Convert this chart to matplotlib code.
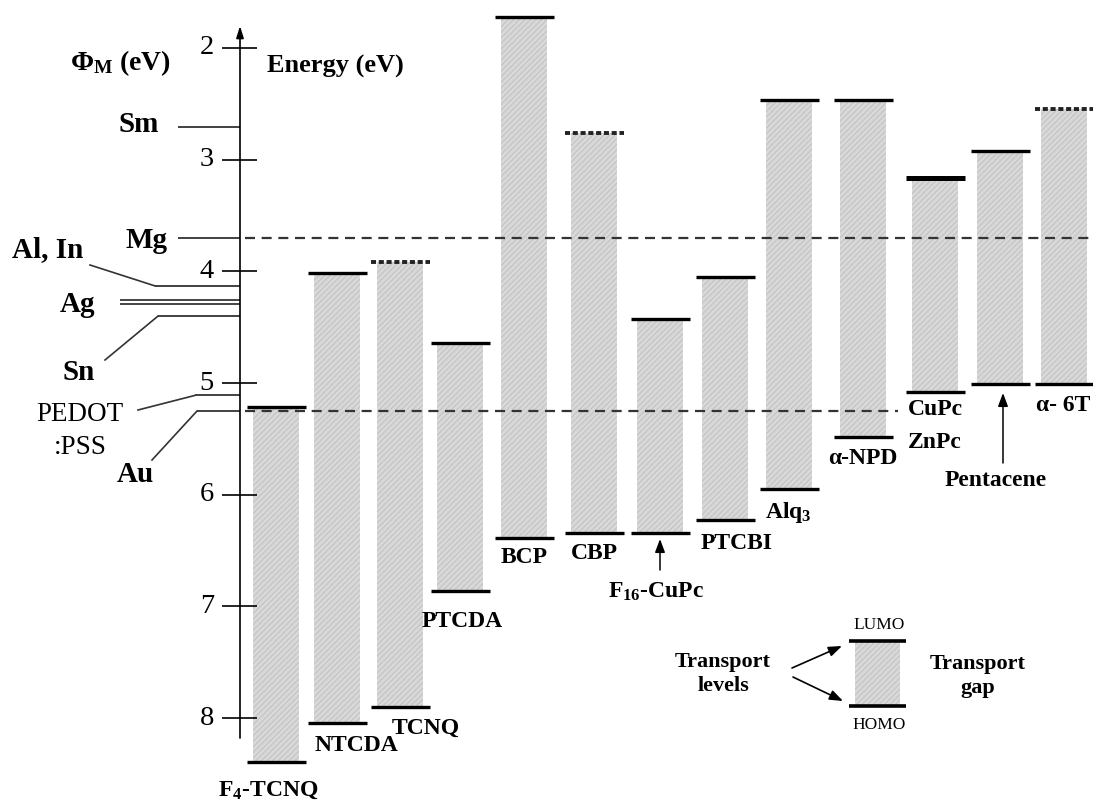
import numpy as np
import matplotlib
matplotlib.use("Agg")
import matplotlib.pyplot as plt

plt.rcParams['font.family'] = ['Liberation Serif', 'DejaVu Serif']
plt.rcParams['mathtext.default'] = 'regular'
plt.rcParams['hatch.linewidth'] = 0.6

# ---------------- data ----------------
materials = ['F$_4$-TCNQ', 'NTCDA', 'TCNQ', 'PTCDA', 'BCP', 'CBP', 'F$_{16}$-CuPc',
             'PTCBI', 'Alq$_3$', 'α-NPD', 'CuPc', 'Pentacene', 'α- 6T']
lumo = [5.21, 4.01, 3.92, 4.64, 1.72, 2.76, 4.43, 4.05, 2.47, 2.47, 3.16, 2.92, 2.55]
homo = [8.39, 8.04, 7.90, 6.86, 6.39, 6.34, 6.34, 6.23, 5.95, 5.48, 5.08, 5.01, 5.01]

metals = ['Sm', 'Mg', 'Al, In', 'Ag', 'Sn', 'PEDOT\n:PSS', 'Au']
phi_m = [2.71, 3.70, 4.13, 4.26, 4.40, 5.11, 5.25]

energy_ticks = [2, 3, 4, 5, 6, 7, 8]

# ---------------- layout / style ----------------
def E(py):
    """pixel row -> energy (layout helper for annotations)"""
    return 2 + (py - 48) / 111.7

bar_x = [276, 337, 400, 460, 524, 594, 660, 725, 789, 863, 935, 1000, 1064]
bar_w = 46
line_w = 59
lumo_style = ['solid', 'solid', 'dotted', 'solid', 'solid', 'dotted', 'solid',
              'solid', 'solid', 'solid', 'thick', 'solid', 'dotted']
label_pos = [(268, 790), (356, 746), (426, 728), (462, 622), (524, 558), (594, 554),
             (656, 592), (737, 544), (788, 513), (863, 459), (935, 410), (996, 481),
             (1063, 406)]

metal_label_pos = [(139, 125), (146, 240), (48, 250), (78, 305), (79, 373),
                   (80, 431), (135, 475)]
metal_line_start = [178, 178, 155, 120, 158, 195, 197]
metal_leader = [None, None, (90, 265), None, (105, 360), (138, 410), (152, 460)]
metal_bold = [True, True, True, True, True, False, True]

bar_face = '#d8d8d8'
hatch_col = '#bdbdbd'

fig = plt.figure(figsize=(10.93, 8.01), dpi=100)
ax = fig.add_axes([0, 0, 1, 1])
ax.set_xlim(0, 1093)
ax.set_ylim(E(801), E(0))
ax.axis('off')

AX_X = 240
# energy axis with arrow
ax.annotate('', xy=(AX_X, E(26)), xytext=(AX_X, E(738)),
            arrowprops=dict(arrowstyle='-|>,head_length=0.7,head_width=0.22',
                            lw=1.2, color='k', shrinkA=0, shrinkB=0))
ax.hlines(energy_ticks, 222, 257, color='k', lw=1.2)
for t in energy_ticks:
    ax.text(214, t, str(t), ha='right', va='center', fontsize=20.5)

ax.text(120, E(63), 'Φ$_\\mathregular{M}$ (eV)', ha='center', va='center',
        fontsize=20, fontweight='bold')
ax.text(267, E(66), 'Energy (eV)', ha='left', va='center', fontsize=19,
        fontweight='bold')

# metal work functions
for i, (name, v) in enumerate(zip(metals, phi_m)):
    if name == 'Ag':
        ax.hlines([v, v + 0.028], metal_line_start[i], AX_X, color='#444', lw=1.4)
    else:
        ax.hlines(v, metal_line_start[i], AX_X, color='#333', lw=1.3)
    if metal_leader[i] is not None:
        lx, ly = metal_leader[i]
        ax.plot([lx, metal_line_start[i]], [E(ly), v], color='#333', lw=1.2)
    tx, ty = metal_label_pos[i]
    ax.text(tx, E(ty), name, ha='center', va='center',
            fontsize=21 if metal_bold[i] else 19.5,
            fontweight='bold' if metal_bold[i] else 'normal', linespacing=1.45)

# dashed reference lines for Mg and Au
ax.hlines(phi_m[1], 245, 1093, color='#333', lw=1.6, linestyles=(0, (4.5, 3.0)))
ax.hlines(phi_m[6], 245, 898, color='#333', lw=1.6, linestyles=(0, (4.5, 3.0)))

# transport gaps
ax.bar(bar_x, np.subtract(homo, lumo), bottom=lumo, width=bar_w,
       facecolor=bar_face, edgecolor=hatch_col, linewidth=0, hatch='//////',
       zorder=1)

for i, x in enumerate(bar_x):
    st = lumo_style[i]
    if st == 'dotted':
        ax.hlines(lumo[i], x - line_w / 2, x + line_w / 2, color='#222', lw=2.8,
                  linestyles=(0, (1.3, 0.7)), zorder=3)
    else:
        ax.hlines(lumo[i], x - line_w / 2, x + line_w / 2, color='k',
                  lw=3.6 if st == 'thick' else 2.4, zorder=3)
    ax.hlines(homo[i], x - line_w / 2, x + line_w / 2, color='k', lw=2.4, zorder=3)
    lx, ly = label_pos[i]
    ax.text(lx, E(ly), materials[i], ha='center', va='center', fontsize=17,
            fontweight='bold')

ax.text(935, E(443), 'ZnPc', ha='center', va='center', fontsize=17,
        fontweight='bold')

# arrows for F16-CuPc and Pentacene
arr = dict(arrowstyle='-|>,head_length=0.8,head_width=0.3', lw=1.1, color='k',
           shrinkA=0, shrinkB=0)
ax.annotate('', xy=(bar_x[6], E(539)), xytext=(bar_x[6], E(570)), arrowprops=arr)
ax.annotate('', xy=(1003, E(393)), xytext=(1003, E(463)), arrowprops=arr)

# legend sketch
lg_x = 877
ax.bar([lg_x], [E(706) - E(641)], bottom=[E(641)], width=45, facecolor=bar_face,
       edgecolor=hatch_col, linewidth=0, hatch='//////', zorder=1)
ax.hlines([E(641), E(706)], lg_x - 28.5, lg_x + 28.5, color='k', lw=2.6, zorder=3)
ax.text(879, E(625), 'LUMO', ha='center', va='center', fontsize=12.5)
ax.text(879, E(725), 'HOMO', ha='center', va='center', fontsize=12.5)
ax.text(723, E(674), 'Transport\nlevels', ha='center', va='center', fontsize=16,
        fontweight='bold', linespacing=1.3)
ax.text(978, E(676), 'Transport\ngap', ha='center', va='center', fontsize=16,
        fontweight='bold', linespacing=1.3)
arr2 = dict(arrowstyle='-|>,head_length=0.8,head_width=0.3', lw=1.2, color='k',
            shrinkA=0, shrinkB=0)
ax.annotate('', xy=(842, E(646)), xytext=(792, E(668)), arrowprops=arr2)
ax.annotate('', xy=(843, E(701)), xytext=(793, E(677)), arrowprops=arr2)

fig.savefig('out.png', dpi=100)
